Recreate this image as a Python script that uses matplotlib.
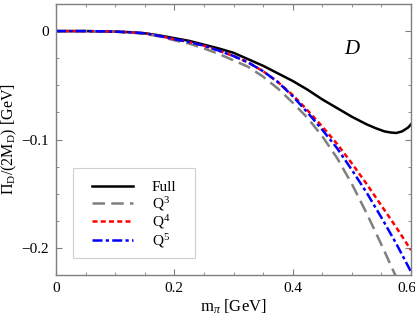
import matplotlib
matplotlib.use("Agg")
import matplotlib.pyplot as plt
from matplotlib.ticker import MultipleLocator
from matplotlib.patches import Rectangle
import matplotlib.transforms as mtransforms

plt.rcParams['font.family'] = ['Liberation Serif', 'DejaVu Serif']
plt.rcParams['mathtext.fontset'] = 'custom'
plt.rcParams['mathtext.rm'] = 'Liberation Serif'
plt.rcParams['mathtext.it'] = 'Liberation Serif:italic'

# data
x_full = [0.0, 0.025, 0.05, 0.075, 0.1, 0.125, 0.15, 0.175, 0.2, 0.225, 0.25, 0.275, 0.3, 0.325,
          0.35, 0.375, 0.4, 0.425, 0.45, 0.475, 0.5, 0.525, 0.54, 0.555, 0.565, 0.575, 0.585, 0.595, 0.6]
y_full = [0.0, 0.0, 0.0, -0.0002, -0.0005, -0.001, -0.002, -0.004, -0.0065, -0.009, -0.0125, -0.016,
          -0.020, -0.026, -0.032, -0.039, -0.046, -0.054, -0.063, -0.071, -0.079, -0.086, -0.0895,
          -0.0925, -0.0935, -0.094, -0.0925, -0.089, -0.086]

x_q = [0.0, 0.025, 0.05, 0.075, 0.1, 0.125, 0.15, 0.175, 0.2, 0.225, 0.25, 0.275, 0.3, 0.325,
       0.35, 0.375, 0.4, 0.425, 0.45, 0.475, 0.5, 0.525, 0.55, 0.575, 0.6]
y_q3 = [0.0, 0.0, 0.0, -0.0002, -0.0006, -0.0013, -0.0025, -0.005, -0.0085, -0.0115, -0.016, -0.021,
        -0.027, -0.033, -0.042, -0.053, -0.066, -0.080, -0.097, -0.117, -0.141, -0.168, -0.197,
        -0.227, -0.258]
y_q4 = [0.0, 0.0, 0.0, -0.0002, -0.0005, -0.0011, -0.002, -0.0045, -0.0075, -0.010, -0.0135, -0.018,
        -0.023, -0.029, -0.037, -0.047, -0.059, -0.073, -0.088, -0.104, -0.122, -0.141, -0.161,
        -0.181, -0.202]
y_q5 = [0.0, 0.0, 0.0, -0.0002, -0.0005, -0.0011, -0.002, -0.0045, -0.0075, -0.010, -0.0135, -0.018,
        -0.023, -0.029, -0.037, -0.047, -0.060, -0.075, -0.091, -0.108, -0.128, -0.149, -0.172,
        -0.196, -0.222]

labels = ["Full", "Q$^3$", "Q$^4$", "Q$^5$"]

fig = plt.figure(figsize=(4.15, 3.32), dpi=100)
ax = fig.add_axes([56/415, (332-275)/332, 355/415, 271/332])

ax.plot(x_full, y_full, color='black', lw=1.8, label=labels[0])
ax.plot(x_q, y_q3, color='#808080', lw=1.8, dashes=(5, 2.5), label=labels[1])
ax.plot(x_q, y_q4, color='red', lw=1.8, dashes=(2, 1.3), label=labels[2])
ax.plot(x_q, y_q5, color='blue', lw=1.8, dashes=(4, 1.3, 1.3, 1.3), label=labels[3])

ax.set_xlim(0, 0.6)
ax.set_ylim(-0.225, 0.025)
ax.xaxis.set_major_locator(MultipleLocator(0.2))
ax.xaxis.set_minor_locator(MultipleLocator(0.05))
ax.yaxis.set_major_locator(MultipleLocator(0.1))
ax.yaxis.set_minor_locator(MultipleLocator(0.025))

def fmt(v, pos):
    if abs(v) < 1e-9:
        return "0"
    s = f"{v:.1f}"
    return s.replace("-", "\u2212")

ax.xaxis.set_major_formatter(plt.FuncFormatter(fmt))
ax.yaxis.set_major_formatter(plt.FuncFormatter(fmt))

for s in ax.spines.values():
    s.set_color('#7f7f7f')
    s.set_linewidth(1.0)
ax.tick_params(which='both', direction='in', top=True, right=True, color='#7f7f7f',
               labelsize=11, pad=5)
ax.tick_params(which='major', length=4)
ax.tick_params(which='minor', length=2.5)

fig.canvas.draw()
xt = ax.get_xticklabels()
for t in xt:
    if t.get_text() == "0.6":
        t.set_transform(t.get_transform() + mtransforms.ScaledTranslation(-4/100, 0, fig.dpi_scale_trans))

ax.set_xlabel("m$_\\pi$ [GeV]", fontsize=12, labelpad=2)
ax.set_ylabel("\u03a0$_\\mathrm{D}$/(2M$_\\mathrm{D}$) [GeV]", fontsize=11.5, labelpad=2)

ax.text(0.5, -0.017, "D", fontsize=15, style='italic', ha='center', va='center')

# legend frame
ax.add_patch(Rectangle((0.048, 0.063), 0.344, 0.332, transform=ax.transAxes, fill=True,
                       facecolor='white', edgecolor='#d0d0d0', linewidth=0.8, zorder=4))
leg = ax.legend(loc='center left', bbox_to_anchor=((92-56)/355, (275-215)/271),
                fontsize=11, frameon=False, handlelength=2.7,
                labelspacing=0.05, borderaxespad=0, handletextpad=1.2, borderpad=0)
leg.set_zorder(5)

fig.savefig("out.png", dpi=100)
